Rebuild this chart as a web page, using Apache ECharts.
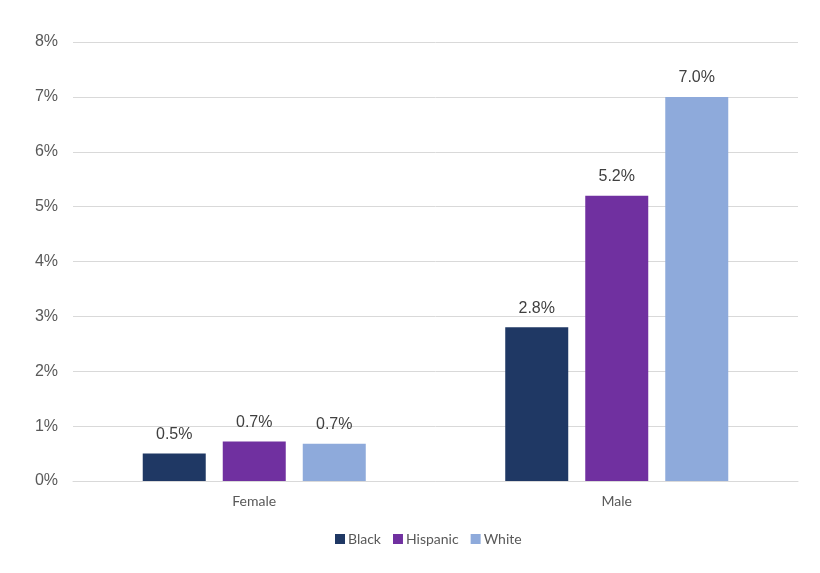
<!DOCTYPE html>
<html>
<head>
<meta charset="utf-8">
<script src="https://cdn.jsdelivr.net/npm/echarts@6/dist/echarts.min.js"></script>
<style>
html,body{margin:0;padding:0;background:#fff;}
#c{width:820px;height:573px;}
</style>
</head>
<body>
<div id="c"></div>
<script>
const categories = ['Female', 'Male'];
const seriesNames = ['Black', 'Hispanic', 'White'];
const black = [0.5, 2.8];
const hispanic = [0.72, 5.2];
const white = [0.68, 7.0];
const yTicks = [0, 1, 2, 3, 4, 5, 6, 7, 8];
const colors = ['#1f3864', '#7030a0', '#8eaadb'];

const chart = echarts.init(document.getElementById('c'));
const values = [black, hispanic, white];
chart.setOption({
  animation: false,
  grid: { left: 73, right: 22, top: 42, bottom: 92 },
  legend: {
    data: seriesNames,
    top: 527,
    left: 330,
    itemWidth: 10,
    itemHeight: 10,
    itemGap: 12,
    icon: 'rect',
    textStyle: { fontFamily: 'Lato, Open Sans, sans-serif', fontSize: 14, color: '#595959', padding: [0, 0, 0, -2] }
  },
  xAxis: {
    type: 'category',
    data: categories,
    axisLine: { lineStyle: { color: '#d9d9d9', width: 1 } },
    axisTick: { show: false },
    axisLabel: { fontFamily: 'Lato, Open Sans, sans-serif', fontSize: 14, color: '#595959', margin: 13 }
  },
  yAxis: {
    type: 'value',
    min: yTicks[0],
    max: yTicks[yTicks.length - 1],
    interval: 1,
    axisLine: { show: false },
    axisTick: { show: false },
    splitLine: { lineStyle: { color: '#d9d9d9', width: 1 } },
    axisLabel: {
      fontFamily: 'Liberation Sans, Arial, sans-serif', fontSize: 16, color: '#595959', margin: 15,
      formatter: v => v + '%'
    }
  },
  series: seriesNames.map((n, i) => ({
    name: n,
    type: 'bar',
    data: values[i],
    barWidth: 63,
    barGap: '27%',
    itemStyle: { color: colors[i] },
    label: {
      show: true,
      position: 'top',
      distance: 11,
      fontFamily: 'Liberation Sans, Arial, sans-serif',
      fontSize: 16,
      color: '#404040',
      formatter: p => p.value.toFixed(1) + '%'
    }
  }))
});
</script>
</body>
</html>
